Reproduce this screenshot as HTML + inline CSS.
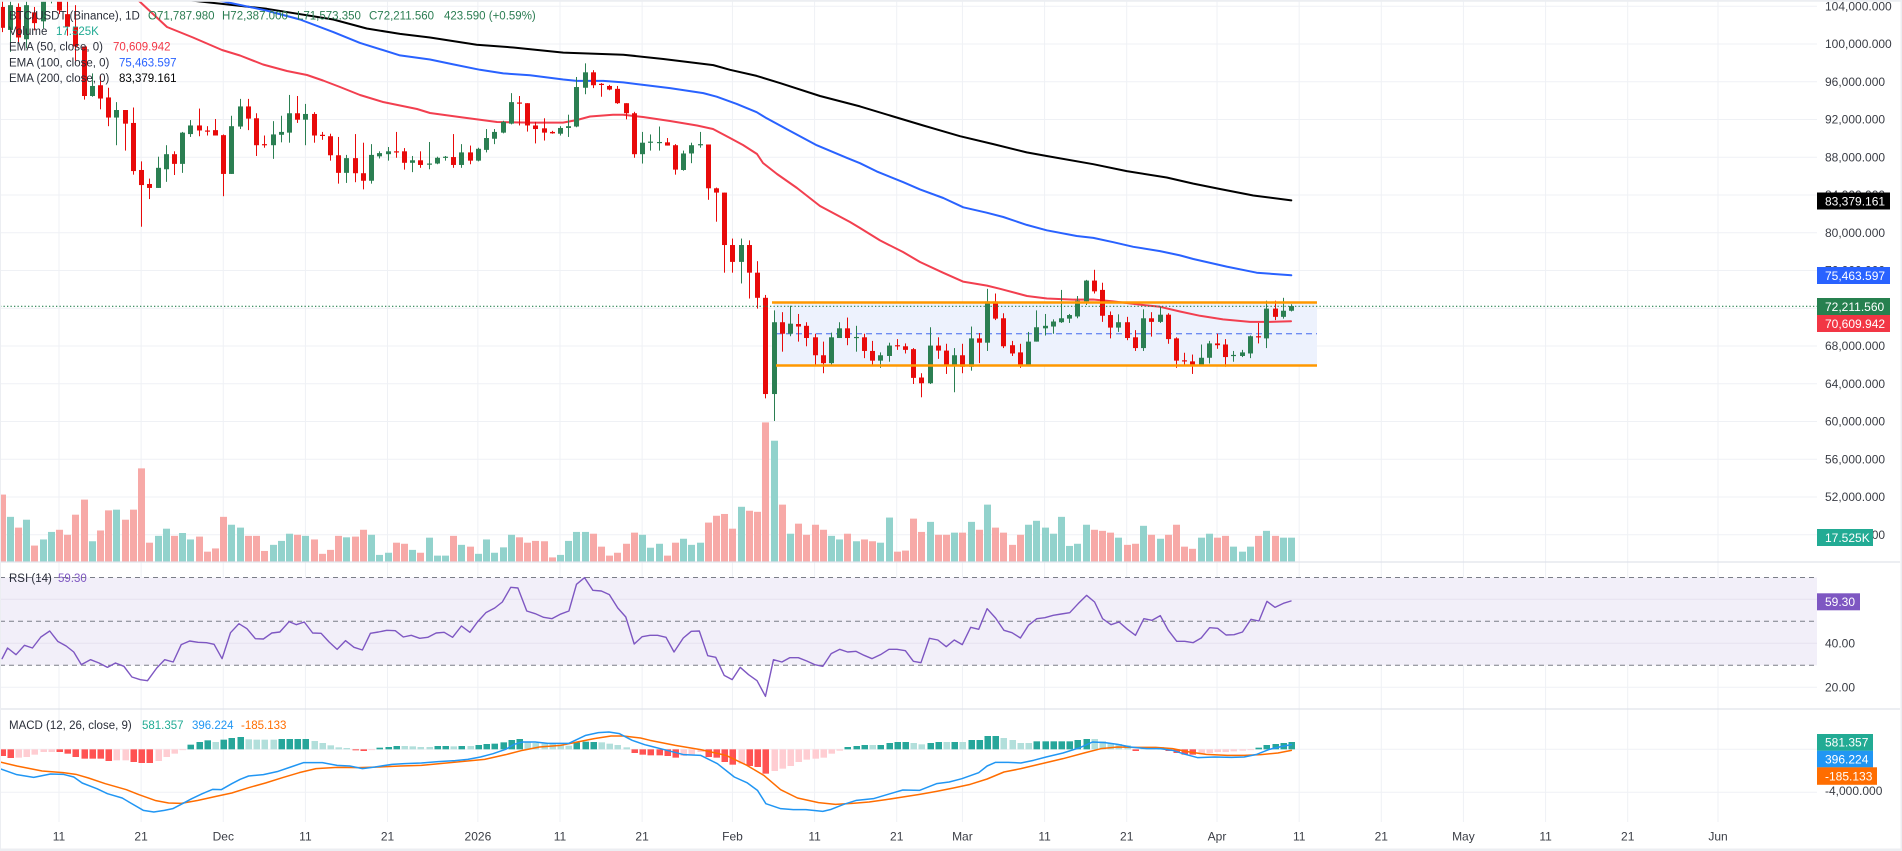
<!DOCTYPE html>
<html><head><meta charset="utf-8">
<style>
html,body{margin:0;padding:0;background:#fff;}
#wrap{position:relative;width:1902px;height:851px;overflow:hidden;background:#fff;}
svg text{font-family:"Liberation Sans",sans-serif;}
.ax{font-size:12px;fill:#3a3d45;}
.lg{font-size:11.5px;fill:#2a2e39;}
.bx{font-size:12px;fill:#fff;}
</style></head><body>
<div id="wrap">
<svg id="s" width="1902" height="851" viewBox="0 0 1902 851" xmlns="http://www.w3.org/2000/svg">
<defs><clipPath id="mc"><rect x="0" y="0" width="1817" height="562"/></clipPath>
<clipPath id="pc"><rect x="0" y="562" width="1817" height="260"/></clipPath></defs>
<g id="grid"></g>
<rect x="0" y="577.5" width="1817" height="87.8" fill="#f2eff9"/>
<g id="rsigrid"></g>
<g stroke="#7b7e88" stroke-width="1" stroke-dasharray="5,4">
<line x1="0" y1="577.5" x2="1817" y2="577.5"/>
<line x1="0" y1="621.3" x2="1817" y2="621.3"/>
<line x1="0" y1="665.3" x2="1817" y2="665.3"/>
</g>
<g id="main" clip-path="url(#mc)"></g>
<g id="ind" clip-path="url(#pc)"></g>
<line x1="0" y1="562" x2="1900" y2="562" stroke="#e0e3eb" stroke-width="1.2"/>
<line x1="0" y1="709" x2="1900" y2="709" stroke="#e0e3eb" stroke-width="1.2"/>

<!-- legends -->
<text class="lg" x="9" y="19.5">BTC/USDT (Binance), 1D</text>
<text class="lg" x="148" y="19.5" fill="#2b7d52" style="fill:#2b7d52">O71,787.980</text>
<text class="lg" x="222" y="19.5" style="fill:#2b7d52">H72,387.000</text>
<text class="lg" x="297" y="19.5" style="fill:#2b7d52">L71,573.350</text>
<text class="lg" x="369" y="19.5" style="fill:#2b7d52">C72,211.560</text>
<text class="lg" x="444" y="19.5" style="fill:#2b7d52">423.590 (+0.59%)</text>
<text class="lg" x="9" y="35">Volume</text>
<text class="lg" x="56" y="35" style="fill:#22ab94">17.525K</text>
<text class="lg" x="9" y="50.7">EMA (50, close, 0)</text>
<text class="lg" x="113" y="50.7" style="fill:#f23645">70,609.942</text>
<text class="lg" x="9" y="66.3">EMA (100, close, 0)</text>
<text class="lg" x="119" y="66.3" style="fill:#2962ff">75,463.597</text>
<text class="lg" x="9" y="82">EMA (200, close, 0)</text>
<text class="lg" x="119" y="82" style="fill:#000">83,379.161</text>
<text class="lg" x="9" y="582.2">RSI (14)</text>
<text class="lg" x="58" y="582.2" style="fill:#7e57c2">59.30</text>
<text class="lg" x="9" y="729.2">MACD (12, 26, close, 9)</text>
<text class="lg" x="142" y="729.2" style="fill:#22ab94">581.357</text>
<text class="lg" x="192" y="729.2" style="fill:#2196f3">396.224</text>
<text class="lg" x="241" y="729.2" style="fill:#ff6d00">-185.133</text>

<!-- price axis -->
<text class="ax" x="1825" y="10.3">104,000.000</text>
<text class="ax" x="1825" y="48.2">100,000.000</text>
<text class="ax" x="1825" y="86">96,000.000</text>
<text class="ax" x="1825" y="123.7">92,000.000</text>
<text class="ax" x="1825" y="161.5">88,000.000</text>
<text class="ax" x="1825" y="199.2">84,000.000</text>
<text class="ax" x="1825" y="237">80,000.000</text>
<text class="ax" x="1825" y="274.7">76,000.000</text>
<text class="ax" x="1825" y="312.5">72,000.000</text>
<text class="ax" x="1825" y="350.2">68,000.000</text>
<text class="ax" x="1825" y="388">64,000.000</text>
<text class="ax" x="1825" y="425.7">60,000.000</text>
<text class="ax" x="1825" y="463.5">56,000.000</text>
<text class="ax" x="1825" y="501.2">52,000.000</text>
<text class="ax" x="1825" y="539">48,000.000</text>
<text class="ax" x="1825" y="647.5">40.00</text>
<text class="ax" x="1825" y="691.5">20.00</text>
<text class="ax" x="1825" y="795">-4,000.000</text>

<rect x="1817" y="192.5" width="73" height="17" fill="#000"/>
<text class="bx" x="1825" y="205.3">83,379.161</text>
<rect x="1817" y="267" width="73" height="17" fill="#2962ff"/>
<text class="bx" x="1825" y="279.8">75,463.597</text>
<rect x="1817" y="298" width="73" height="17" fill="#26804f"/>
<text class="bx" x="1825" y="310.8">72,211.560</text>
<rect x="1817" y="315" width="73" height="17" fill="#f23645"/>
<text class="bx" x="1825" y="327.8">70,609.942</text>
<rect x="1817" y="529" width="56" height="17" fill="#22ab94"/>
<text class="bx" x="1825" y="541.8">17.525K</text>
<rect x="1817" y="593.3" width="43" height="17" fill="#7e57c2"/>
<text class="bx" x="1825" y="606.1">59.30</text>
<rect x="1817" y="734" width="56" height="16.8" fill="#22ab94"/>
<text class="bx" x="1825" y="746.6">581.357</text>
<rect x="1817" y="750.7" width="56" height="16.7" fill="#2196f3"/>
<text class="bx" x="1825" y="763.3">396.224</text>
<rect x="1817" y="767.3" width="60" height="17.5" fill="#ff6d00"/>
<text class="bx" x="1825" y="780.3">-185.133</text>

<!-- time axis -->
<g class="ax" text-anchor="middle">
<text x="59" y="840.5">11</text>
<text x="141.1" y="840.5">21</text>
<text x="223.3" y="840.5">Dec</text>
<text x="305.4" y="840.5">11</text>
<text x="387.5" y="840.5">21</text>
<text x="477.9" y="840.5">2026</text>
<text x="560" y="840.5">11</text>
<text x="642.1" y="840.5">21</text>
<text x="732.5" y="840.5">Feb</text>
<text x="814.6" y="840.5">11</text>
<text x="896.7" y="840.5">21</text>
<text x="962.4" y="840.5">Mar</text>
<text x="1044.6" y="840.5">11</text>
<text x="1126.7" y="840.5">21</text>
<text x="1217" y="840.5">Apr</text>
<text x="1299.2" y="840.5">11</text>
<text x="1381.3" y="840.5">21</text>
<text x="1463.4" y="840.5">May</text>
<text x="1545.6" y="840.5">11</text>
<text x="1627.7" y="840.5">21</text>
<text x="1718" y="840.5">Jun</text>
</g>

<rect x="0" y="0" width="1902" height="1.8" fill="#eceef2"/>
<rect x="1900.5" y="0" width="1.5" height="851" fill="#eceef2"/>
<rect x="0" y="848.5" width="1902" height="2.5" fill="#eceef2"/>
<rect x="0" y="0" width="1" height="851" fill="#eceef2"/>
</svg>
</div>
<script>
(function(){
var NS='http://www.w3.org/2000/svg';
function el(t,a,p){var e=document.createElementNS(NS,t);for(var k in a)e.setAttribute(k,a[k]);p.appendChild(e);return e;}
var X=function(d){return 59+8.213*d;};
var Y=function(yp){return (yp-0.6)/2.785;};
var grid=document.getElementById('grid');
var main=document.getElementById('main');
var ind=document.getElementById('ind');
var GC='#eff1f5';
// horizontal main gridlines
for(var p=104000;p>=48000;p-=4000){var y=44+(100000-p)/4000*37.75;el('line',{x1:0,y1:y,x2:1817,y2:y,stroke:GC,'stroke-width':1},grid);}
[599.3,643.3,687.3,749.3,792.3].forEach(function(y){el('line',{x1:0,y1:y,x2:1817,y2:y,stroke:GC,'stroke-width':1},grid);});
[0,10,20,30,40,51,61,71,82,92,102,110,120,130,141,151,161,171,181,191,202].forEach(function(d){var x=X(d);el('line',{x1:x,y1:0,x2:x,y2:822,stroke:GC,'stroke-width':1},grid);});
var rg=document.getElementById('rsigrid');
[599.3,643.3].forEach(function(y){el('line',{x1:0,y1:y,x2:1817,y2:y,stroke:'#e6e2f0','stroke-width':1},rg);});

// volume
var V=[[-7,0,1378],[-6,1,1440],[-5,0,1470],[-4,1,1448],[-3,0,1520],[-2,1,1503],[-1,1,1482],[0,0,1476],[1,0,1490],[2,0,1434],[3,0,1392],[4,1,1508],[5,0,1478],[6,0,1422],[7,1,1420],[8,0,1448],[9,0,1420],[10,0,1305],[11,0,1512],[12,1,1493],[13,1,1473],[14,0,1493],[15,1,1485],[16,1,1503],[17,0,1495],[18,0,1537],[19,0,1528],[20,0,1440],[21,1,1462],[22,1,1470],[23,0,1493],[24,0,1493],[25,0,1535],[26,1,1518],[27,1,1507],[28,1,1487],[29,0,1490],[30,1,1493],[31,0,1503],[32,0,1543],[33,0,1532],[34,0,1493],[35,1,1497],[36,0,1495],[37,0,1476],[38,1,1490],[39,1,1546],[40,1,1540],[41,0,1512],[42,0,1515],[43,1,1532],[44,0,1540],[45,1,1498],[46,1,1548],[47,1,1548],[48,0,1493],[49,1,1518],[50,0,1523],[51,1,1543],[52,1,1503],[53,1,1540],[54,1,1525],[55,1,1490],[56,0,1497],[57,0,1512],[58,0,1507],[59,0,1508],[60,0,1553],[61,1,1546],[62,1,1507],[63,1,1482],[64,1,1482],[65,0,1487],[66,0,1523],[67,0,1548],[68,0,1540],[69,0,1515],[70,0,1484],[71,1,1490],[72,1,1526],[73,1,1515],[74,0,1548],[75,0,1512],[76,1,1501],[77,1,1518],[78,1,1512],[79,0,1456],[80,0,1437],[81,0,1432],[82,0,1473],[83,1,1412],[84,0,1423],[85,0,1426],[86,0,1177],[87,1,1228],[88,0,1406],[89,1,1487],[90,0,1459],[91,0,1490],[92,0,1462],[93,0,1476],[94,1,1493],[95,1,1503],[96,0,1487],[97,1,1508],[98,0,1503],[99,0,1508],[100,1,1512],[101,1,1442],[102,0,1537],[103,0,1534],[104,0,1445],[105,0,1482],[106,1,1454],[107,0,1490],[108,0,1490],[109,1,1484],[110,0,1484],[111,1,1454],[112,0,1476],[113,1,1406],[114,0,1470],[115,0,1484],[116,0,1518],[117,0,1490],[118,1,1462],[119,1,1451],[120,1,1470],[121,1,1487],[122,1,1440],[123,1,1521],[124,1,1515],[125,1,1462],[126,0,1476],[127,0,1479],[128,0,1484],[129,1,1498],[130,0,1518],[131,0,1515],[132,1,1465],[133,0,1490],[134,1,1501],[135,0,1490],[136,0,1462],[137,0,1523],[138,0,1529],[139,1,1498],[140,1,1487],[141,0,1498],[142,0,1493],[143,1,1523],[144,1,1537],[145,1,1523],[146,0,1493],[147,1,1479],[148,0,1493],[149,1,1498],[150,1,1498]];
V.forEach(function(v){var x=Math.round(X(v[0]))-3;var t=Y(v[2]);el('rect',{x:x,y:t,width:7,height:562-t,fill:v[1]?'#92d2cc':'#f7a9a7'},main);});

// rectangle fill
el('rect',{x:774,y:302.5,width:543,height:63,fill:'#edf2fd'},main);
el('line',{x1:776,y1:333.7,x2:1317,y2:333.7,stroke:'#6f8df2','stroke-width':1.4,'stroke-dasharray':'6,4'},main);

// EMAs
function poly(pts,col,w,par){el('polyline',{points:pts.map(function(p){return p[0]+','+p[1];}).join(' '),fill:'none',stroke:col,'stroke-width':w,'stroke-linejoin':'round','stroke-linecap':'round'},par);}
var E50=[[117,-20],[138,0],[167,27],[193,37.5],[222,50],[240,55.5],[263,64.5],[287,71],[307,75],[323,80.5],[340,87],[360,95],[383,102],[417,109],[430,113],[463,117.5],[497,122],[530,122.6],[563,122.6],[577,120],[590,116.5],[613,114.7],[623,114.7],[643,117],[670,121],[697,125.5],[713,129],[730,138],[743,145],[757,154],[763,163],[777,174],[797,188],[820,206],[850,222],[860,228],[880,240.4],[903,252],[920,262],[943,272.7],[963,281.6],[987,285.6],[1000,288.8],[1027,296],[1047,298.5],[1073,299.6],[1093,299.5],[1113,301.4],[1137,304.3],[1160,306.8],[1180,311.5],[1200,315.8],[1223,319.4],[1250,321.9],[1270,321.9],[1291,321.2]];
var E100=[[170,-10],[216.7,0],[266.7,10.6],[300,19.5],[333.3,32.1],[360,42.9],[400,55.4],[430,59.5],[453.3,64.4],[480,69.8],[503.3,73.4],[530,75.2],[563.3,79.5],[576.7,80.9],[603.3,80.9],[623.3,82.4],[643.3,84.9],[670,88.1],[703.3,93.1],[716.7,96.7],[736.7,103.9],[756.7,112.2],[766.7,118.3],[786.7,129.1],[816.7,145.2],[846.7,157.8],[860,163.2],[876.7,171.4],[903.3,182.2],[920,189.4],[943.3,198],[963.3,207.3],[986.7,212.7],[1003.3,217],[1026.7,224.9],[1046.7,230.3],[1076.7,236],[1093.3,237.9],[1113.3,242.2],[1133.3,246.8],[1160,251.1],[1180,255.4],[1193.3,259],[1226.7,266.6],[1256.7,272.7],[1291.3,275.3]];
var E200=[[100,-10],[186.7,0],[266.7,8.8],[333.3,19.5],[366.7,28.5],[400,33.9],[430,37.5],[476.7,44.7],[513.3,47.5],[563.3,52.6],[623.3,54.7],[663.3,59],[713.3,65.1],[730,69.8],[756.7,75.9],[780,83.1],[820,96],[860,106.4],[893.3,116.5],[923.3,125.5],[960,136.2],[993.3,144.1],[1026.7,152.4],[1046.7,156],[1093.3,164.2],[1126.7,171.1],[1166.7,177.5],[1193.3,183.6],[1220,189],[1253.3,195.5],[1291.3,200.4]];
poly(E200,'#000',2,main);
poly(E100,'#2962ff',2,main);
poly(E50,'#f23f4f',2,main);

// candles [d,green,bodyTop,bodyBot,wickTop,wickBot] (zoom coords)
var C=[[-7,0,20,78,0,90],[-6,1,15,84,5,145],[-5,0,20,105,10,120],[-4,1,15,110,5,135],[-3,0,35,65,20,85],[-2,1,5,60,0,80],[-1,1,-30,-5,-40,10],[0,0,0,30,-10,40],[1,0,40,75,5,100],[2,0,75,130,15,170],[3,0,130,268,130,278],[4,1,240,268,205,270],[5,0,238,275,210,305],[6,0,272,328,245,352],[7,1,307,328,285,405],[8,0,307,345,307,420],[9,0,343,477,300,487],[10,0,474,516,450,632],[11,0,513,524,498,555],[12,1,468,524,437,524],[13,1,430,472,405,507],[14,0,430,457,422,488],[15,1,370,457,368,482],[16,1,350,374,335,382],[17,0,350,364,303,380],[18,0,364,366,352,378],[19,0,363,378,332,378],[20,0,377,485,375,547],[21,1,352,485,323,485],[22,1,297,353,276,360],[23,0,297,331,276,363],[24,0,330,405,316,435],[25,0,402,404,378,412],[26,1,375,405,338,443],[27,1,368,376,323,397],[28,1,316,370,265,398],[29,0,316,334,268,343],[30,1,318,334,290,405],[31,0,318,378,313,398],[32,0,376,378,368,390],[33,0,380,433,373,448],[34,0,433,482,382,512],[35,1,441,482,432,510],[36,0,441,483,374,508],[37,0,483,504,398,528],[38,1,432,504,402,512],[39,1,427,436,422,442],[40,1,422,430,410,448],[41,0,422,424,368,440],[42,0,422,454,413,473],[43,1,447,454,435,480],[44,0,447,460,422,468],[45,1,456,458,396,472],[46,1,440,456,437,458],[47,1,437,439,435,448],[48,0,438,460,374,468],[49,1,425,460,402,468],[50,0,425,448,406,458],[51,1,415,448,412,450],[52,1,385,418,360,425],[53,1,368,387,360,402],[54,1,340,370,337,372],[55,1,285,345,260,347],[56,0,286,288,268,350],[57,0,288,350,288,367],[58,0,350,360,340,400],[59,0,358,370,330,392],[60,0,368,372,365,373],[61,1,357,373,352,378],[62,1,352,357,320,382],[63,1,243,353,215,355],[64,1,202,245,177,263],[65,0,202,238,196,246],[66,0,234,236,232,270],[67,0,240,250,237,252],[68,0,248,288,240,290],[69,0,288,316,288,333],[70,0,316,430,312,440],[71,1,398,430,368,456],[72,1,395,397,375,420],[73,1,396,398,353,420],[74,0,397,406,385,406],[75,0,405,473,402,487],[76,1,428,474,420,476],[77,1,405,428,398,455],[78,1,402,404,368,412],[79,0,403,525,403,557],[80,0,525,537,523,618],[81,0,537,683,537,760],[82,0,683,730,665,760],[83,1,683,730,665,790],[84,0,683,760,670,832],[85,0,760,830,728,860],[86,0,830,1098,822,1110],[87,1,898,1098,865,1173],[88,0,898,930,870,980],[89,1,902,930,852,937],[90,0,903,910,875,952],[91,0,908,942,898,965],[92,0,940,990,930,1018],[93,0,990,1012,952,1040],[94,1,940,1012,927,1018],[95,1,915,942,898,942],[96,0,915,942,885,962],[97,1,939,941,908,980],[98,0,940,978,930,998],[99,0,978,1005,950,1018],[100,1,990,1005,982,1025],[101,1,963,992,955,1008],[102,0,962,964,945,975],[103,0,965,975,957,985],[104,0,973,1053,970,1070],[105,0,1052,1068,1040,1107],[106,1,963,1068,912,1070],[107,0,963,977,940,1000],[108,0,977,1020,958,1042],[109,1,990,1020,970,1093],[110,0,990,1022,958,1040],[111,1,943,1022,910,1033],[112,0,943,955,928,1012],[113,1,840,955,805,978],[114,0,840,888,818,892],[115,0,887,965,873,970],[116,0,962,985,950,992],[117,0,982,1017,958,1025],[118,1,952,1017,925,1020],[119,1,912,952,865,952],[120,1,908,915,875,935],[121,1,896,910,890,930],[122,1,887,898,808,900],[123,1,878,888,875,900],[124,1,838,882,825,887],[125,1,782,840,780,850],[126,0,782,812,752,818],[127,0,808,880,788,897],[128,0,878,913,868,943],[129,1,898,913,876,925],[130,0,898,942,883,948],[131,0,940,970,920,978],[132,1,887,970,862,978],[133,0,887,897,870,938],[134,1,877,897,855,900],[135,0,877,945,873,958],[136,0,943,1005,940,1025],[137,0,1004,1006,983,1018],[138,0,1007,1017,988,1042],[139,1,997,1017,960,1020],[140,1,957,997,950,1013],[141,0,957,962,930,972],[142,0,960,995,945,1022],[143,1,989,991,978,1008],[144,1,982,992,975,995],[145,1,937,985,935,998],[146,0,937,939,900,957],[147,1,860,943,838,970],[148,0,860,883,838,892],[149,1,866,883,830,888],[150,1,853,866,848,868]];
C.forEach(function(c){var cx=Math.round(X(c[0]));var col=c[1]?'#2b7f52':'#e80a0a';
var wt=Y(c[4]),wb=Y(c[5]);el('rect',{x:cx,y:wt,width:1,height:Math.max(1,wb-wt),fill:col},main);
var bt=Y(c[2]),bb=Y(c[3]);el('rect',{x:cx-2,y:bt,width:5,height:Math.max(1.2,bb-bt),fill:col},main);});

// rectangle borders
el('line',{x1:772,y1:302.5,x2:1317,y2:302.5,stroke:'#ff9800','stroke-width':2.4},main);
el('line',{x1:776,y1:365.5,x2:1317,y2:365.5,stroke:'#ff9800','stroke-width':2.4},main);
// dotted current price
el('line',{x1:0,y1:306.3,x2:1817,y2:306.3,stroke:'#26804f','stroke-width':1.2,'stroke-dasharray':'1.3,2.2'},main);

// RSI
var r8=[[5,290],[18,258],[38,278],[58,250],[77,258],[97,225],[118,207],[137,238],[157,252],[175,270],[193,308],[215,293],[235,303],[255,316],[274,303],[294,313],[313,345],[333,353],[350,356],[372,318],[391,293],[411,300],[430,248],[450,237],[470,241],[490,242],[508,247],[527,290],[547,212],[567,185],[586,200],[606,230],[625,231],[645,213],[664,210],[686,179],[703,188],[722,180],[742,213],[762,214],[781,240],[800,262],[820,236],[840,256],[860,264],[879,214],[898,210],[918,205],[938,206],[957,225],[976,220],[996,229],[1015,226],[1035,213],[1054,211],[1074,226],[1095,192],[1115,211],[1133,180],[1153,152],[1174,138],[1192,120],[1212,76],[1229,78],[1250,147],[1270,155],[1290,166],[1310,170],[1329,157],[1350,147],[1368,67],[1387,47],[1407,85],[1427,87],[1446,98],[1466,138],[1485,165],[1505,246],[1524,224]];
var r9=[[0,220],[18,220],[38,226],[57,270],[79,228],[98,208],[117,207],[137,281],[156,286],[176,340],[195,353],[214,316],[234,338],[254,356],[274,403],[293,293],[313,300],[332,287],[352,287],[372,297],[391,308],[410,313],[430,275],[450,262],[469,270],[489,268],[508,280],[527,290],[547,278],[567,262],[586,262],[606,266],[625,298],[643,302],[663,229],[683,234],[703,254],[722,234],[741,248],[761,196],[780,202],[800,140],[820,168],[840,205],[859,212],[879,228],[898,190],[918,170],[937,167],[957,160],[976,156],[996,152],[1016,125],[1036,100],[1055,120],[1074,170],[1094,188],[1113,180],[1133,202],[1152,220],[1172,170],[1191,175],[1211,161],[1230,205],[1250,238],[1269,238],[1289,242],[1308,228],[1328,197],[1347,199],[1367,219],[1386,218],[1406,210],[1426,172],[1445,177],[1464,118],[1483,136],[1503,124],[1521,117]];
function cv(a,b){var o=[];a.forEach(function(p){o.push([p[0]/2.373,562+p[1]/3]);});b.forEach(function(p){o.push([650+p[0]/2.373,562+p[1]/3]);});return o;}
poly(cv(r8,r9),'#7e57c2',1.4,ind);

// MACD histogram
var H=[[-7,'R',582],[-6,'R',588],[-5,'r',587],[-4,'r',585],[-3,'r',578],[-2,'r',570],[-1,'r',570],[0,'R',570],[1,'R',575],[2,'R',585],[3,'R',590],[4,'R',590],[5,'R',590],[6,'R',597],[7,'r',595],[8,'r',595],[9,'R',600],[10,'R',603],[11,'R',603],[12,'r',597],[13,'r',585],[14,'r',575],[15,'r',564],[16,'G',548],[17,'G',540],[18,'G',535],[19,'g',540],[20,'G',533],[21,'G',528],[22,'G',525],[23,'g',532],[24,'g',533],[25,'g',533],[26,'g',533],[27,'G',531],[28,'G',531],[29,'G',531],[30,'G',531],[31,'g',537],[32,'g',543],[33,'g',550],[34,'g',556],[35,'g',558],[36,'R',565],[37,'R',567],[38,'r',564],[39,'G',557],[40,'G',555],[41,'G',552],[42,'g',552],[43,'g',553],[44,'g',555],[45,'g',555],[46,'G',552],[47,'G',552],[48,'g',553],[49,'G',552],[50,'g',552],[51,'G',549],[52,'G',546],[53,'G',545],[54,'G',541],[55,'G',534],[56,'G',531],[57,'g',540],[58,'g',543],[59,'g',545],[60,'g',545],[61,'g',548],[62,'g',551],[63,'G',541],[64,'G',539],[65,'G',540],[66,'g',541],[67,'g',545],[68,'g',549],[69,'g',556],[70,'R',573],[71,'R',578],[72,'R',580],[73,'R',580],[74,'R',582],[75,'R',587],[76,'r',582],[77,'r',577],[78,'r',570],[79,'R',585],[80,'R',587],[81,'R',600],[82,'R',608],[83,'r',605],[84,'R',612],[85,'R',615],[86,'R',635],[87,'r',627],[88,'r',620],[89,'r',612],[90,'r',600],[91,'r',593],[92,'r',590],[93,'r',587],[94,'r',575],[95,'r',566],[96,'G',555],[97,'G',552],[98,'G',549],[99,'g',549],[100,'G',549],[101,'G',543],[102,'G',540],[103,'G',540],[104,'g',543],[105,'g',547],[106,'G',543],[107,'G',540],[108,'g',540],[109,'G',540],[110,'g',540],[111,'G',534],[112,'G',534],[113,'G',522],[114,'G',522],[115,'g',528],[116,'g',534],[117,'g',543],[118,'g',543],[119,'G',538],[120,'G',538],[121,'G',538],[122,'G',538],[123,'G',538],[124,'G',534],[125,'G',531],[126,'g',531],[127,'g',538],[128,'g',543],[129,'g',546],[130,'g',550],[131,'R',567],[132,'g',555],[133,'g',555],[134,'G',556],[135,'R',567],[136,'R',573],[137,'R',578],[138,'R',578],[139,'r',577],[140,'r',573],[141,'r',570],[142,'r',570],[143,'r',568],[144,'r',566],[145,'r',564],[146,'G',557],[147,'G',549],[148,'G',546],[149,'G',543],[150,'G',540]];
var HC={G:'#26a69a',g:'#b2dfdb',R:'#ff5252',r:'#ffcdd2'};
var Z=562+562/3;
H.forEach(function(h){var x=Math.round(X(h[0]))-2.5;var v=562+h[2]/3;var t=Math.min(v,Z),b=Math.max(v,Z);el('rect',{x:x,y:t,width:6.5,height:Math.max(0.8,b-t),fill:HC[h[1]]},ind);});
var m8=[[0,620],[40,638],[80,646],[120,636],[150,637],[175,645],[195,663],[230,680],[255,695],[290,708],[310,723],[340,745],[365,750],[390,745],[410,740],[430,727],[455,710],[480,695],[505,682],[525,683],[550,665],[570,652],[590,642],[625,638],[660,628],[690,615],[720,602],[765,602],[800,610],[830,612],[860,620],[890,615],[930,607],[960,605],[1000,603],[1040,599],[1080,596],[1110,592],[1140,585],[1170,575],[1200,562],[1220,547],[1240,540],[1270,540],[1300,544],[1350,544],[1390,520],[1420,512],[1445,510],[1470,515],[1500,535],[1530,548]];
var m9=[[0,552],[40,565],[80,578],[120,580],[160,605],[200,645],[230,662],[255,685],[275,725],[310,740],[340,743],[370,743],[410,748],[430,742],[460,727],[490,715],[530,710],[570,695],[600,684],[640,685],[680,665],[710,660],[740,650],[780,632],[800,612],[820,601],[850,601],[880,603],[910,595],[940,585],[980,573],[1020,557],[1050,540],[1080,542],[1110,547],[1140,555],[1180,560],[1210,560],[1240,565],[1270,577],[1300,587],[1340,585],[1380,586],[1410,585],[1440,577],[1470,562],[1500,553],[1522,548]];
var s8=[[0,600],[40,612],[100,627],[150,632],[180,637],[210,648],[250,665],[300,683],[330,698],[370,716],[400,723],[430,724],[470,715],[510,704],[550,693],[590,677],[630,663],[670,647],[710,632],[750,620],[800,616],[850,617],[900,615],[950,612],[1000,610],[1050,604],[1100,598],[1150,592],[1200,578],[1240,565],[1280,555],[1330,550],[1370,540],[1410,530],[1450,522],[1480,522],[1520,528]];
var s9=[[0,535],[60,550],[120,563],[180,580],[230,610],[270,640],[310,683],[350,708],[400,722],[440,727],[480,724],[520,720],[560,713],[600,705],[640,697],[680,688],[720,678],[760,667],[800,651],[840,630],[880,620],[930,605],[980,590],[1030,573],[1070,560],[1110,555],[1150,556],[1200,556],[1240,560],[1280,570],[1320,577],[1370,580],[1410,580],[1450,578],[1490,573],[1522,565]];
poly(cv(s8,s9),'#ff6d00',1.5,ind);
poly(cv(m8,m9),'#2196f3',1.5,ind);
})();
</script>
</body></html>
